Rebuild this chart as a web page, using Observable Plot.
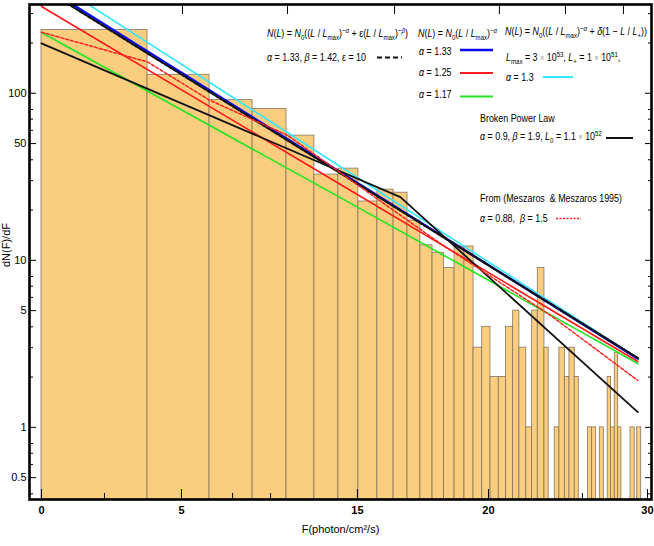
<!DOCTYPE html>
<html><head><meta charset="utf-8">
<script src="https://cdn.jsdelivr.net/npm/d3@7"></script>
<script src="https://cdn.jsdelivr.net/npm/@observablehq/plot@0.6"></script>
<style>
html,body{margin:0;padding:0;background:#fff;}
svg text{white-space:pre;}
</style>
</head><body><div id="chart"></div>
<script>
const FONT = '"Liberation Sans",Arial,sans-serif';

// x is the position along the frame (0..30); tick labels are the printed ones
const xTickPos = [0, 6.93, 15.64, 22.13, 30];
const xTickLabels = ["0", "5", "15", "20", "30"];
const xMinorPos = [3.12, 9.46, 11.34, 26.78];
const xTopTickPos = [6.98, 12.18, 17.48, 22.67, 25.94, 28.81];
const yMajor = [0.5, 1, 5, 10, 50, 100];
const yTickLabels = ["0.5", "1", "5", "10", "50", "100"];
const yMinor = [0.4, 0.6, 0.7, 0.8, 2, 3, 4, 6, 7, 8, 20, 30, 40, 60, 70, 80, 200, 300];

// histogram bins
const binLeft  = [0, 5.25, 8.32, 10.45, 12.13, 13.51, 14.70, 15.69, 16.63, 17.43, 18.12, 18.76, 19.36, 19.93, 20.45, 20.94, 21.39, 21.82, 22.23, 22.64, 23.00, 23.35, 23.66, 24.00, 24.29, 24.57, 24.90, 25.41, 25.64, 25.91, 26.14, 26.40, 27.06, 27.26, 27.64, 28.03, 28.20, 28.38, 28.55, 29.16, 29.49];
const binRight = [5.25, 8.32, 10.45, 12.13, 13.51, 14.70, 15.69, 16.63, 17.43, 18.12, 18.76, 19.36, 19.93, 20.45, 20.94, 21.39, 21.82, 22.23, 22.64, 23.00, 23.35, 23.66, 24.00, 24.29, 24.57, 24.90, 25.11, 25.64, 25.91, 26.14, 26.40, 26.60, 27.26, 27.46, 27.84, 28.20, 28.38, 28.55, 28.71, 29.37, 29.69];
const binCount = [239, 129, 91, 80.5, 55.8, 32.6, 35.4, 22.5, 26.5, 25.4, 17.3, 12.3, 11.1, 9.0, 12.1, 12.1, 3, 4, 2, 2, 4, 5, 3, 1, 5, 9, 3, 1, 3, 2, 3, 2, 1, 1, 1, 2, 1, 2.8, 1, 1, 1];

// model curves
const blueX = [0, 29.52],   blueY = [445, 2.58];      // N0 (L/Lmax)^-a, a=1.33
const redX = [0, 29.52],    redY = [331, 2.48];       // a=1.25
const greenX = [0, 14.31, 29.52], greenY = [231, 25.6, 2.41]; // a=1.17
const cyanX = [0, 29.52],   cyanY = [516, 2.6];       // with delta term, a=1.3
const dashX = [0, 29.52],   dashY = [430, 2.6];       // two power laws, eps=10
const brokenX = [0, 17.77, 29.52], brokenY = [199, 23.9, 1.235]; // broken power law
const meszX = [0, 5.25, 8.32, 12.18, 19.75, 25.2, 29.52];
const meszY = [232, 154, 91, 56, 12.6, 4.68, 1.91];  // Meszaros & Meszaros 1995

const bars = binLeft.map((x1, i) => ({x1, x2: binRight[i], v: binCount[i]}));
const pts = (X, Y) => X.map((x, i) => ({x, y: Y[i]}));
const curves = [
  {p: pts(redX, redY), color: "#ff1a1a", w: 1.6, dash: null},
  {p: pts(greenX, greenY), color: "#22e622", w: 1.6, dash: null},
  {p: pts(cyanX, cyanY), color: "#33e6ff", w: 1.6, dash: null},
  {p: pts(blueX, blueY), color: "#0a0af0", w: 2.4, dash: null},
  {p: pts(dashX, dashY), color: "#111", w: 2.2, dash: "3,2"},
  {p: pts(brokenX, brokenY), color: "#111", w: 1.8, dash: null},
  {p: pts(meszX, meszY), color: "#ff2020", w: 1.5, dash: "3,2"}
];

const xDomain = [-0.594, 30.2];
const yDomain = [0.37, 340];

const plot = Plot.plot({
  width: 654, height: 546,
  marginLeft: 29, marginRight: 3, marginTop: 4, marginBottom: 47,
  style: {fontFamily: FONT, fontSize: "11px", background: "white", color: "black"},
  x: {domain: xDomain},
  y: {type: "log", domain: yDomain},
  marks: [
    Plot.rect(bars, {x1: "x1", x2: "x2", y1: () => yDomain[0], y2: "v", fill: "#fbcd7f", stroke: "#85765f", strokeWidth: 0.8, clip: true}),
    ...curves.map(c => Plot.line(c.p, {x: "x", y: "y", stroke: c.color, strokeWidth: c.w, strokeDasharray: c.dash, clip: true})),
    Plot.axisY({anchor: "left", ticks: yMajor, tickSize: -7, tickFormat: () => "", label: null}),
    Plot.text(yMajor, {y: d => d, text: (d, i) => yTickLabels[i], frameAnchor: "left", textAnchor: "end", dx: -3, fontSize: 11}),
    Plot.axisY({anchor: "left", ticks: yMinor, tickSize: -4, tickFormat: () => "", label: null}),
    Plot.axisY({anchor: "right", ticks: yMajor, tickSize: -7, tickFormat: () => "", label: null}),
    Plot.axisY({anchor: "right", ticks: yMinor, tickSize: -4, tickFormat: () => "", label: null}),
    Plot.axisX({anchor: "bottom", ticks: xTickPos, tickSize: -10, tickPadding: 17, fontWeight: "bold", fontSize: 11, tickFormat: d => xTickLabels[xTickPos.indexOf(d)], label: null}),
    Plot.axisX({anchor: "bottom", ticks: xMinorPos, tickSize: -6, tickFormat: () => "", label: null}),
    Plot.axisX({anchor: "top", ticks: xTopTickPos, tickSize: -9, tickFormat: () => "", label: null}),
    Plot.text(["F(photon/cm²/s)"], {frameAnchor: "bottom", dy: 33, fontSize: 11}),
    Plot.text(["dN(F)/dF"], {frameAnchor: "left", rotate: -90, dx: -23, dy: 15, fontSize: 11}),
    Plot.frame({stroke: "black", strokeWidth: 2.6})
  ]
});
document.getElementById("chart").appendChild(plot);

// legend (inside the frame, top right)
const legendText = [
  ["$N$($L$) = $N$_{0}(($L$ / $L$_{max})^{−$α$} + ε($L$ / $L$_{max})^{−$β$})", 267, 33],
  ["$α$ = 1.33, $β$ = 1.42, ε = 10", 267, 57],
  ["$N$($L$) = $N$_{0}($L$ / $L$_{max})^{−$α$}", 418, 33],
  ["$α$ = 1.33", 419, 51],
  ["$α$ = 1.25", 419, 72],
  ["$α$ = 1.17", 419, 94],
  ["$N$($L$) = $N$_{0}(($L$ / $L$_{max})^{−$α$} + $δ$(1 − $L$ / $L$_{+}))", 505, 31],
  ["$L$_{max} = 3 × 10^{53}, $L$_{+} = 1 × 10^{51},", 506, 57],
  ["$α$ = 1.3", 506, 77],
  ["Broken Power Law", 480, 118],
  ["$α$ = 0.9, $β$ = 1.9, $L$_{0} = 1.1 × 10^{52}", 480, 136],
  ["From (Meszaros  & Meszaros 1995)", 480, 198],
  ["$α$ = 0.88,  $β$ = 1.5", 480, 218]
];
const legendSwatch = [
  [377, 402, 57.5, "#111", 2.2, "5,3"],
  [460, 493, 50, "#0a0af0", 2.4, null],
  [460, 493, 73, "#ff1a1a", 1.8, null],
  [460, 493, 96.5, "#22e622", 1.8, null],
  [543, 573, 77, "#33e6ff", 2, null],
  [606, 633, 138, "#111", 2, null],
  [556, 581, 218.5, "#ff2020", 1.5, "2,1.5"]
];

function parseRich(s) {
  const segs = []; let it = false, mode = 0, buf = "";
  const push = () => { if (buf) segs.push({t: buf, it, mode}); buf = ""; };
  for (let i = 0; i < s.length; i++) {
    const c = s[i];
    if (c === "$") { push(); it = !it; }
    else if ((c === "_" || c === "^") && s[i + 1] === "{") { push(); mode = c === "_" ? -1 : 1; i++; }
    else if (c === "}" && mode !== 0) { push(); mode = 0; }
    else buf += c;
  }
  push();
  return segs;
}
const svg = d3.select(plot);
const lg = svg.append("g").attr("font-family", FONT).attr("font-size", 11).attr("fill", "black").attr("text-anchor", "start");
for (const [s, x, y] of legendText) {
  const t = lg.append("text").attr("transform", `translate(${x},${y + 4}) scale(0.81,1)`).attr("text-anchor", "start");
  let prev = 0;
  for (const g of parseRich(s)) {
    const shift = g.mode === 1 ? -4 : g.mode === -1 ? 2.5 : 0;
    const parts = g.t.split(/(×)/);
    let first = true;
    for (const part of parts) {
      if (!part) continue;
      const ts = t.append("tspan").text(part);
      if (first) { ts.attr("dy", shift - prev); first = false; }
      if (g.it) ts.attr("font-style", "italic");
      if (g.mode) ts.attr("font-size", 7.5);
      if (part === "×") ts.attr("fill", "#8a8a8a").attr("font-size", 9);
    }
    prev = shift;
  }
}
for (const [x1, x2, y, c, w, d] of legendSwatch) {
  const l = lg.append("line").attr("x1", x1).attr("x2", x2).attr("y1", y).attr("y2", y).attr("stroke", c).attr("stroke-width", w);
  if (d) l.attr("stroke-dasharray", d);
}
</script>
</body></html>
